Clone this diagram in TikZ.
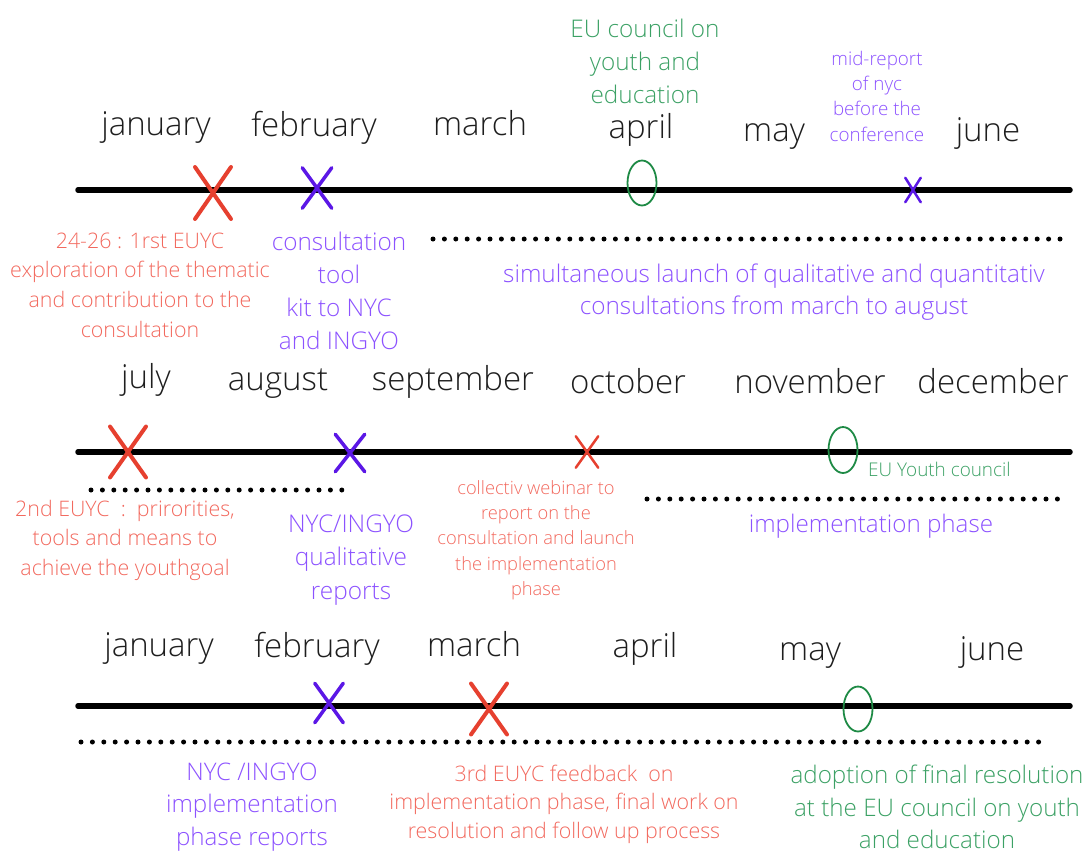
\documentclass[tikz,border=0pt]{standalone}
\usepackage{fontspec}
\IfFontExistsTF{Open Sans Light}{\setmainfont{Open Sans Light}}{\setmainfont{Open Sans}}
\usetikzlibrary{shapes.geometric, shapes.misc}
\definecolor{markred}{HTML}{E6402F}
\definecolor{notered}{HTML}{F2695E}
\definecolor{markpurple}{HTML}{5B17E6}
\definecolor{notepurple}{HTML}{8C52FF}
\definecolor{markgreen}{HTML}{1E8A45}
\definecolor{notegreen}{HTML}{3CA165}
\definecolor{monthgrey}{HTML}{1E1E1E}
\tikzset{month/.style={
        anchor=base,
        inner sep=0pt,
        text=monthgrey,
        font=\fontsize{33}{39}\selectfont
}}
\tikzset{note/.style={
        inner sep=0pt,
        align=center
}}
\tikzset{timeline/.style={draw,line width=5.5pt,line cap=round}}
\tikzset{dotline/.style={draw,line width=5pt,line cap=round,dash pattern=on 0pt off 11.4pt}}
\tikzset{xmark/.style={
        cross out,
        draw,
        inner sep=0pt,
        line cap=round
}}
\tikzset{omark/.style={
        ellipse,
        draw=markgreen,
        line width=1.8pt,
        inner sep=0pt,
        minimum width=29pt,
        minimum height=45pt
}}

\begin{document}
\begin{tikzpicture}[x=1pt,y=-1pt]
\useasboundingbox (0,0) rectangle (1089,852);

% first half year
\node[month] (jan1) at (156,135) {january};
\node[month] (feb1) at (314,136) {february};
\node[month] (mar1) at (480,135) {march};
\node[month] (apr1) at (641,138) {april};
\node[month] (may1) at (774,141) {may};
\node[month] (jun1) at (988,141) {june};

\coordinate (l1a) at (78,190);
\coordinate (l1b) at (1070,190);
\draw[timeline] (l1a) -- (l1b);

\node[xmark, draw=markred, line width=4pt, minimum width=32pt, minimum height=48pt] (euyc1x) at (213,193) {};
\node[xmark, draw=markpurple, line width=3.5pt, minimum width=26pt, minimum height=37pt] (toolx) at (317,188) {};
\node[omark] (councilo) at (642,183) {};
\node[xmark, draw=markpurple, line width=2.5pt, minimum width=13pt, minimum height=22pt] (midx) at (913,190) {};

\node[note, text=notegreen, font=\fontsize{24.3}{33}\selectfont] (council) at (645,61) {EU council on\\youth and\\education};
\node[note, text=notepurple, font=\fontsize{18.8}{25.3}\selectfont] (midrep) at (877,96) {mid-report\\of nyc\\before the\\conference};

\node[note, text=notered, font=\fontsize{21.4}{29.7}\selectfont] (euyc1) at (140,285) {24-26 : 1rst EUYC\\exploration of the thematic\\and contribution to the\\consultation};
\node[note, text=notepurple, font=\fontsize{24.3}{33}\selectfont] (toolkit) at (339,291) {consultation\\tool\\kit to NYC\\and INGYO};

\coordinate (d1a) at (433,239);
\coordinate (d1b) at (1063,239);
\draw[dotline] (d1a) -- (d1b);
\node[note, text=notepurple, font=\fontsize{24.3}{32}\selectfont] (launch) at (774,292) {simultaneous launch of qualitative and quantitativ\\consultations from march to august};

% second half year
\node[month] (jul) at (146,388) {july};
\node[month] (aug) at (278,390) {august};
\node[month] (sep) at (453,390) {september};
\node[month] (oct) at (628,393) {october};
\node[month] (nov) at (810,393) {november};
\node[month] (dec) at (993,393) {december};

\coordinate (l2a) at (78,452);
\coordinate (l2b) at (1070,452);
\draw[timeline] (l2a) -- (l2b);

\node[xmark, draw=markred, line width=4pt, minimum width=32pt, minimum height=47pt] (euyc2x) at (128,452) {};
\node[xmark, draw=markpurple, line width=3.5pt, minimum width=26pt, minimum height=34pt] (qualx) at (350,453) {};
\node[xmark, draw=markred, line width=2.5pt, minimum width=20pt, minimum height=29pt] (webx) at (587,452) {};
\node[omark, minimum height=46pt] (youtho) at (843,450) {};

\coordinate (d2a) at (91,490);
\coordinate (d2b) at (344,490);
\draw[dotline] (d2a) -- (d2b);
\coordinate (d3a) at (647,499);
\coordinate (d3b) at (1062,499);
\draw[dotline] (d3a) -- (d3b);

\node[note, text=notered, font=\fontsize{21.4}{29.5}\selectfont] (euyc2) at (125,540) {2nd EUYC~ :~ prirorities,\\tools and means to\\achieve the youthgoal};
\node[note, text=notepurple, font=\fontsize{24.4}{33.5}\selectfont] (qualrep) at (351,560) {NYC/INGYO\\qualitative\\reports};
\node[note, text=notered, font=\fontsize{18.3}{25.3}\selectfont] (webinar) at (536,540) {collectiv webinar to\\report on the\\consultation and launch\\the implementation\\phase};
\node[note, anchor=west, text=notegreen, font=\fontsize{18.9}{21}\selectfont] (youth) at (868,469) {EU Youth council};
\node[note, text=notepurple, font=\fontsize{24.2}{33}\selectfont] (implph) at (871,526) {implementation phase};

% third half year
\node[month] (jan3) at (159,656) {january};
\node[month] (feb3) at (317,657) {february};
\node[month] (mar3) at (474,656) {march};
\node[month] (apr3) at (645,657) {april};
\node[month] (may3) at (810,660) {may};
\node[month] (jun3) at (992,660) {june};

\coordinate (l3a) at (78,706);
\coordinate (l3b) at (1070,706);
\draw[timeline] (l3a) -- (l3b);

\node[xmark, draw=markpurple, line width=3.5pt, minimum width=25pt, minimum height=36pt] (implx) at (329,703) {};
\node[xmark, draw=markred, line width=4pt, minimum width=32pt, minimum height=47pt] (euyc3x) at (489,709) {};
\node[omark] (adopto) at (858,709) {};

\coordinate (d4a) at (81,742);
\coordinate (d4b) at (1044,742);
\draw[dotline] (d4a) -- (d4b);

\node[note, text=notepurple, font=\fontsize{24.2}{32.5}\selectfont] (implrep) at (252,807) {NYC /INGYO\\implementation\\phase reports};
\node[note, text=notered, font=\fontsize{21.4}{28.5}\selectfont] (euyc3) at (564,804) {3rd EUYC feedback~ on\\implementation phase, final work on\\resolution and follow up process};
\node[note, text=notegreen, font=\fontsize{24.2}{32.5}\selectfont] (adopt) at (937,807) {adoption of final resolution\\at the EU council on youth\\and education};
\end{tikzpicture}
\end{document}
